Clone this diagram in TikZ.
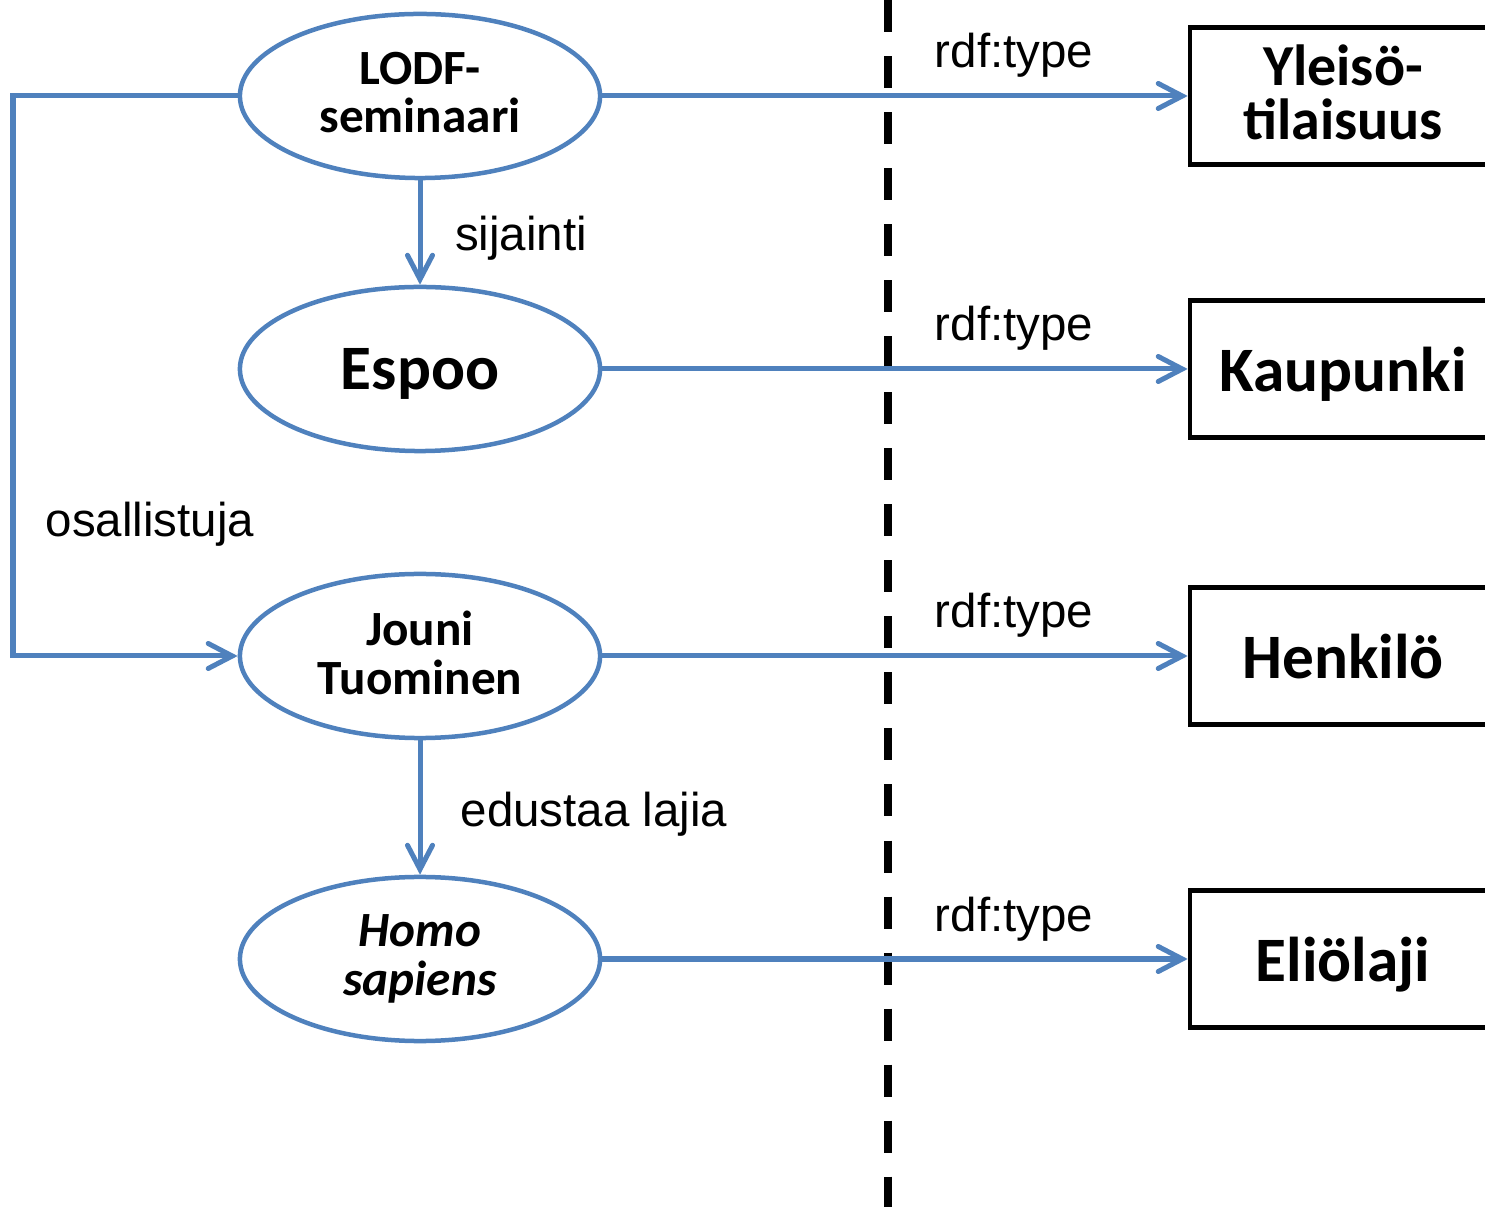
\documentclass[tikz,border=0pt]{standalone}
\usepackage{fontspec}
\newfontfamily\boxfont{Carlito}
\newfontfamily\labelfont{Liberation Sans}
\usetikzlibrary{arrows.meta,shapes.geometric}
\definecolor{linkblue}{RGB}{79,129,189}

\begin{document}
\begin{tikzpicture}[x=0.01cm, y=-0.01cm,
    resource/.style={ellipse, draw=linkblue, line width=0.045cm, minimum width=3.6cm, minimum height=1.64cm,
        inner sep=0pt, align=center, font=\boxfont\bfseries\fontsize{14pt}{13.8pt}\selectfont},
    classbox/.style={rectangle, draw=black, line width=0.045cm, minimum width=3.06cm, minimum height=1.37cm,
        inner sep=0pt, align=center, text depth=0pt, font=\boxfont\bfseries\fontsize{18pt}{20pt}\selectfont},
    link/.style={draw=linkblue, line width=0.05cm, -{Straight Barb[length=0.24cm, width=0.25cm, line cap=round]}},
    edgelabel/.style={font=\labelfont\fontsize{13.5pt}{16pt}\selectfont, inner sep=0pt, anchor=base},
    divider/.style={draw=black, line width=0.08cm, dash pattern=on 0.32cm off 0.24cm}]

    \useasboundingbox (0,0) rectangle (1485,1207);
    \clip (0,0) rectangle (1485,1207);

    % instances | classes
    \draw[divider] (888,0) -- (888,1207);

    % instances
    \node[resource, text depth=0.07cm] (lodf) at (420,96) {LODF-\\seminaari};
    \node[resource, text depth=0pt, font=\boxfont\bfseries\fontsize{18pt}{20pt}\selectfont] (espoo) at (420,369) {Espoo};
    \node[resource, text depth=0.07cm] (jouni) at (420,656) {Jouni\\Tuominen};
    \node[resource, font=\boxfont\bfseries\itshape\fontsize{14pt}{13.8pt}\selectfont] (homo) at (420,959) {Homo\\sapiens};

    % classes (cut off at the right edge)
    \node[classbox, text depth=0.08cm, font=\boxfont\bfseries\fontsize{16.5pt}{15.2pt}\selectfont] (yleiso) at (1343,96) {Yleisö-\\tilaisuus};
    \node[classbox] (kaupunki) at (1343,369) {Kaupunki};
    \node[classbox] (henkilo) at (1343,656) {Henkilö};
    \node[classbox] (eliolaji) at (1343,959) {Eliölaji};

    % properties between instances
    \draw[link] (lodf) -- (espoo);
    \draw[link] (jouni) -- (homo);
    \coordinate (bend) at (13,96);
    \draw[link] (lodf.west) -- (bend) |- (jouni.west);

    \node[edgelabel] (sijainti) at (521,251) {sijainti};
    \node[edgelabel] (osallistuja) at (150,537) {osallistuja};
    \node[edgelabel] (edustaa) at (594,827) {edustaa lajia};

    % rdf:type links
    \foreach \a/\b in {lodf/yleiso, espoo/kaupunki, jouni/henkilo, homo/eliolaji}
        \draw[link] (\a) -- (\b);
    \foreach \row/\y in {1/68, 2/341, 3/628, 4/932}
        \node[edgelabel] (type\row) at (1014,\y) {rdf:type};
\end{tikzpicture}
\end{document}
